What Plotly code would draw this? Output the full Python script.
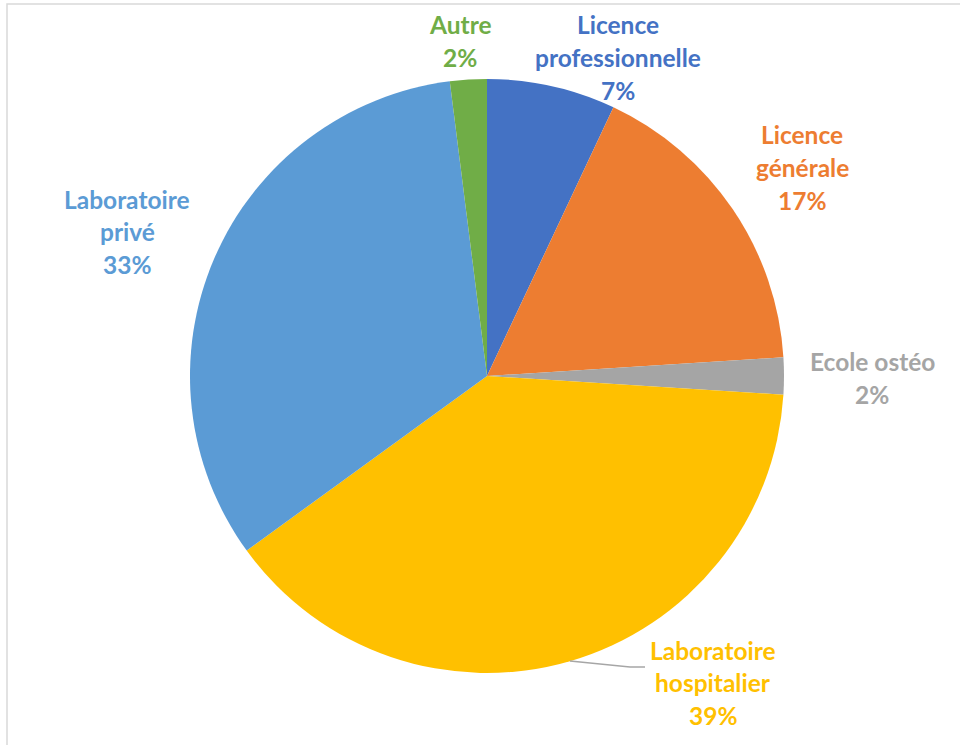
import plotly.graph_objects as go

categories = ["Licence professionnelle", "Licence générale", "Ecole ostéo",
              "Laboratoire hospitalier", "Laboratoire privé", "Autre"]
values = [7, 17, 2, 39, 33, 2]
colors = ["#4472C4", "#ED7D31", "#A5A5A5", "#FFC000", "#5B9BD5", "#70AD47"]

W, H = 960, 745
# label anchor (pixel centre x, first line centre y) for each slice
label_pos = [(618, 25), (802, 135), (872, 362), (713, 650), (127, 199), (460, 25)]
single_line = {"Ecole ostéo"}
LINE = 32.5
FONT = "Lato, 'Open Sans', sans-serif"

fig = go.Figure(go.Pie(
    labels=categories,
    values=values,
    marker=dict(colors=colors, line=dict(width=0)),
    sort=False,
    direction="clockwise",
    rotation=0,
    textinfo="none",
    hoverinfo="label+percent",
    showlegend=False,
    domain=dict(x=[190 / W, 784 / W], y=[72 / H, 666 / H]),
))

annotations = []
for cat, val, col, (px, py) in zip(categories, values, colors, label_pos):
    lines = [cat] if cat in single_line else cat.split(" ")
    lines = lines + [f"{val}%"]
    for i, ln in enumerate(lines):
        annotations.append(dict(
            x=px / W, y=1 - (py + i * LINE) / H, xref="paper", yref="paper",
            text=f"<b>{ln}</b>", showarrow=False, xanchor="center", yanchor="middle",
            font=dict(family=FONT, size=24.5, color=col),
        ))

shapes = [
    dict(type="rect", xref="paper", yref="paper",
         x0=7 / W, x1=1.05, y0=-0.05, y1=1 - 4 / H,
         line=dict(color="#D9D9D9", width=1.5)),
    dict(type="path", xref="paper", yref="paper",
         path=f"M {570 / W} {1 - 661 / H} L {630 / W} {1 - 667 / H} L {645 / W} {1 - 667 / H}",
         line=dict(color="#A6A6A6", width=1.5)),
]

fig.update_layout(
    width=W, height=H,
    margin=dict(l=0, r=0, t=0, b=0),
    paper_bgcolor="white",
    plot_bgcolor="white",
    annotations=annotations,
    shapes=shapes,
)

fig.write_html("out.html", config={"displayModeBar": False},
               post_script="document.body.style.margin='0';document.body.style.overflow='hidden';")
